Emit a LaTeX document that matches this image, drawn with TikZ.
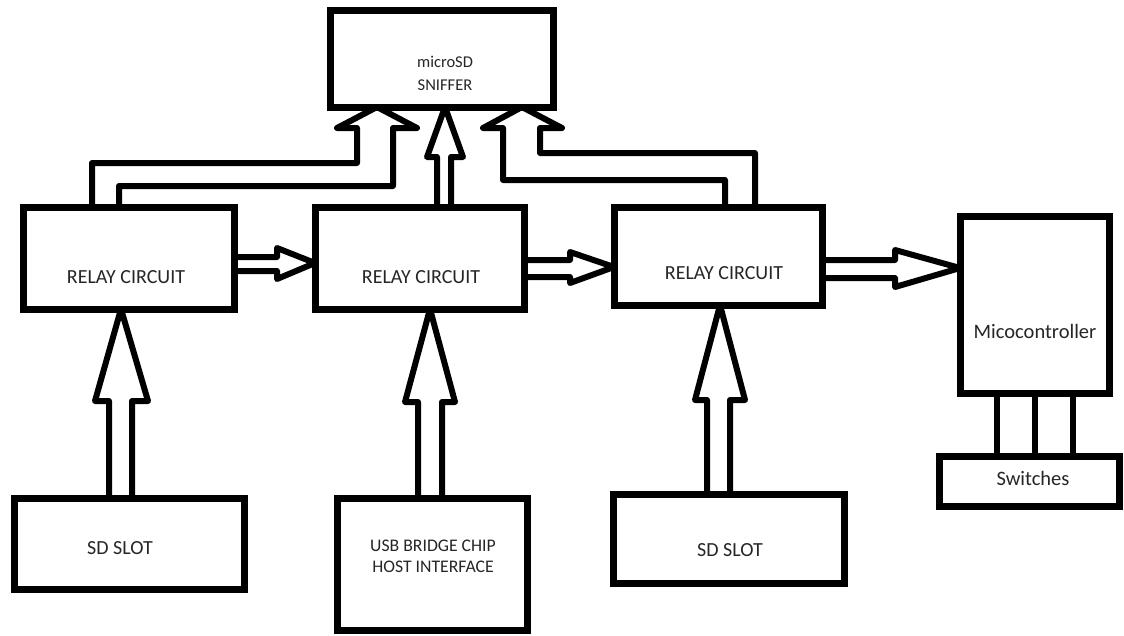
\documentclass[tikz,border=0pt]{standalone}
\usepackage{fontspec}
\setmainfont{Carlito}
\begin{document}
\begin{tikzpicture}[x=1pt,y=-1pt,
  box/.style={draw=black, line width=7pt, inner sep=0pt, outer sep=0pt,
    anchor=north west, line join=miter},
  blockarrow/.style={draw=black, line width=6pt, line join=round},
  wire/.style={draw=black, line width=6pt},
  lbl/.style={inner sep=0pt, text=black!85, align=center},
  big/.style={font=\fontsize{20}{24}\selectfont},
]
% canvas
\fill[white] (0,0) rectangle (1124,635);
\useasboundingbox (0,0) rectangle (1124,635);

% blocks
\node[box, minimum width=223pt, minimum height=97pt]  (sniffer) at (330,10)  {};
\node[box, minimum width=211pt, minimum height=102pt] (relayA)  at (23,207)  {};
\node[box, minimum width=209pt, minimum height=102pt] (relayB)  at (315,207) {};
\node[box, minimum width=208pt, minimum height=98pt]  (relayC)  at (614,207) {};
\node[box, minimum width=149pt, minimum height=177pt] (mcu)     at (960,216) {};
\node[box, minimum width=180pt, minimum height=50pt]  (sw)      at (939,456) {};
\node[box, minimum width=230pt, minimum height=91pt]  (slotA)   at (14,498)  {};
\node[box, minimum width=190pt, minimum height=132pt] (usb)     at (337,498) {};
\node[box, minimum width=231pt, minimum height=89pt]  (slotB)   at (613,494) {};

% labels
\node[lbl, font=\fontsize{16.5}{23}\selectfont] (tSniffer) at (445,73) {microSD\\SNIFFER};
\node[lbl, big] (tRelayA) at (126,277) {RELAY CIRCUIT};
\node[lbl, big] (tRelayB) at (421,277) {RELAY CIRCUIT};
\node[lbl, big] (tRelayC) at (724,273) {RELAY CIRCUIT};
\node[lbl, font=\fontsize{20.5}{24}\selectfont] (tMcu) at (1035,331) {Micocontroller};
\node[lbl, font=\fontsize{20.5}{24}\selectfont] (tSw) at (1033,478) {Switches};
\node[lbl, big] (tSlotA) at (120,548) {SD SLOT};
\node[lbl, big] (tSlotB) at (730,550) {SD SLOT};
\node[lbl, font=\fontsize{17.7}{21}\selectfont] (tUsb) at (433,556) {USB BRIDGE CHIP\\HOST INTERFACE};

% hollow arrows between the relay stages
\draw[blockarrow] (relayA.east |- 0,257) -- (277,257) -- (277,248) -- (relayB.west |- 0,263)
  -- (277,279) -- (277,271) -- (relayA.east |- 0,271);
\draw[blockarrow] (relayB.east |- 0,260) -- (570,260) -- (570,252) -- (relayC.west |- 0,267)
  -- (570,283) -- (570,277) -- (relayB.east |- 0,277);
\draw[blockarrow] (relayC.east |- 0,260) -- (895,260) -- (895,250) -- (mcu.west |- 0,268)
  -- (895,287) -- (895,278) -- (relayC.east |- 0,278);

% hollow arrows from the sources up to the relays
\draw[blockarrow] (109,0 |- slotA.north) -- (109,401) -- (95,401) -- (121,0 |- relayA.south)
  -- (148,401) -- (132,401) -- (132,0 |- slotA.north);
\draw[blockarrow] (418,0 |- usb.north) -- (418,402) -- (405,402) -- (430,0 |- relayB.south)
  -- (455,402) -- (442,402) -- (442,0 |- usb.north);
\draw[blockarrow] (707,0 |- slotB.north) -- (707,400) -- (695,400) -- (720,0 |- relayC.south)
  -- (745,400) -- (730,400) -- (730,0 |- slotB.north);

% hollow arrows from the relays up to the sniffer
\draw[blockarrow] (92,0 |- relayA.north) -- (92,163) -- (357,163) -- (357,128) -- (337,128)
  -- (377,0 |- sniffer.south) -- (417,128) -- (393,128) -- (393,186) -- (119,186)
  -- (119,0 |- relayA.north);
\draw[blockarrow] (437,0 |- relayB.north) -- (437,157) -- (427,157) -- (445,0 |- sniffer.south)
  -- (463,157) -- (451,157) -- (451,0 |- relayB.north);
\draw[blockarrow] (755,0 |- relayC.north) -- (755,153) -- (540,153) -- (540,128) -- (562,128)
  -- (522,0 |- sniffer.south) -- (483,128) -- (503,128) -- (503,180) -- (725,180)
  -- (725,0 |- relayC.north);

% switch lines
\foreach \x in {997,1035,1073}
  \draw[wire] (\x,0 |- mcu.south) -- (\x,0 |- sw.north);
\end{tikzpicture}
\end{document}
